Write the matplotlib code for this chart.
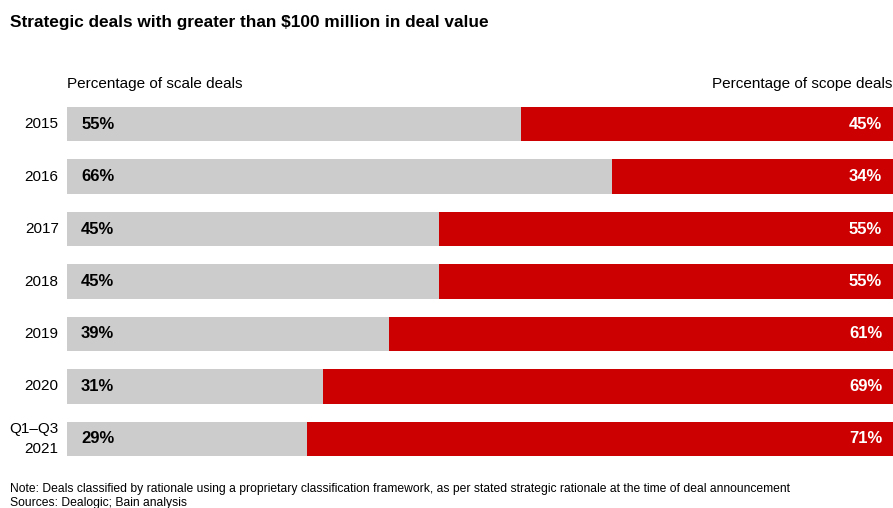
import numpy as np
import matplotlib.pyplot as plt

plt.rcParams['font.family'] = ['Liberation Sans', 'DejaVu Sans']

# share of strategic deals by rationale
years = ["2015", "2016", "2017", "2018", "2019", "2020", "Q1\u2013Q3\n2021"]
scale_pct = [55, 66, 45, 45, 39, 31, 29]
scope_pct = [45, 34, 55, 55, 61, 69, 71]

GRAY = "#cccccc"
RED = "#cc0000"

fig = plt.figure(figsize=(8.93, 5.08), dpi=100)
ax = fig.add_axes([67 / 893, 1 - 456 / 508, 1 - 67 / 893, 349 / 508])

y = np.arange(len(years))
ax.barh(y, scale_pct, height=0.65, color=GRAY)
ax.barh(y, scope_pct, left=scale_pct, height=0.65, color=RED)

for i, (a, b) in enumerate(zip(scale_pct, scope_pct)):
    ax.text(1.7, i, f"{a}%", ha="left", va="center", fontsize=12,
            fontweight="bold", color="black")
    ax.text(98.7, i, f"{b}%", ha="right", va="center", fontsize=12,
            fontweight="bold", color="white")

ax.set_xlim(0, 100)
ax.set_ylim(len(years) - 1 + 0.325, -0.325)
ax.set_yticks(y)
ax.set_yticklabels(years, fontsize=11, linespacing=1.6, va="center",
                   multialignment="right")
ax.tick_params(axis="y", length=0, pad=6)
ax.set_xticks([])
for s in ax.spines.values():
    s.set_visible(False)

fig.text(10 / 893, 1 - 22 / 508, "Strategic deals with greater than $100 million in deal value",
         ha="left", va="center", fontsize=12.4, fontweight="bold")
fig.text(67 / 893, 1 - 84 / 508, "Percentage of scale deals",
         ha="left", va="center", fontsize=11)
fig.text(892 / 893, 1 - 84 / 508, "Percentage of scope deals",
         ha="right", va="center", fontsize=11)

fig.text(10 / 893, 1 - 489 / 508,
         "Note: Deals classified by rationale using a proprietary classification framework, "
         "as per stated strategic rationale at the time of deal announcement",
         ha="left", va="center", fontsize=8.75)
fig.text(10 / 893, 1 - 503 / 508, "Sources: Dealogic; Bain analysis",
         ha="left", va="center", fontsize=8.75)

fig.savefig("out.png", dpi=100)
